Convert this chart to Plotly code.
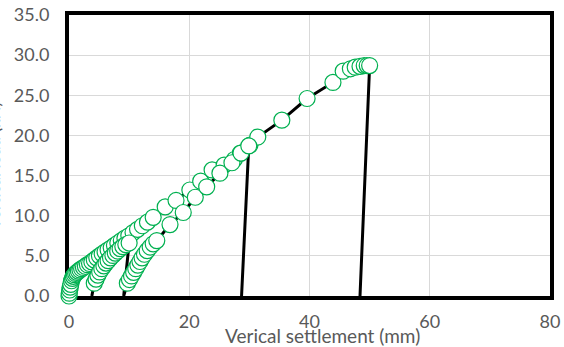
import plotly.graph_objects as go

# Continuous loading curve (loading points), ending with the final unloading
load_a_x = [0.0, 0.05, 0.12, 0.2, 0.3, 0.42, 0.56, 0.72, 0.9, 1.1, 1.32, 1.56, 1.82,
            2.1, 2.4, 2.72, 3.06, 3.42, 3.8, 4.2, 4.62, 5.06, 5.52, 6.0, 6.5, 7.02,
            7.56, 8.12, 8.7, 9.3, 9.95, 10.65, 11.4, 12.2, 13.05, 14.0, 16.0, 17.8,
            20.1, 21.9, 23.8, 25.8, 27.5, 28.5, 30.1, 31.4, 35.4, 39.6, 43.9, 45.6,
            46.8, 47.6, 48.4, 49.1, 49.6, 50.0]
load_a_y = [0.0, 0.35, 0.75, 1.1, 1.45, 1.9, 2.2, 2.45, 2.65, 2.8, 2.95, 3.1, 3.25,
            3.4, 3.55, 3.7, 3.9, 4.05, 4.25, 4.5, 4.75, 5.0, 5.25, 5.5, 5.75, 6.0,
            6.3, 6.6, 6.9, 7.2, 7.5, 7.9, 8.3, 8.75, 9.2, 9.8, 11.1, 11.9, 13.2,
            14.3, 15.7, 16.3, 17.0, 17.8, 18.8, 19.8, 21.9, 24.6, 26.6, 28.0, 28.3,
            28.5, 28.6, 28.7, 28.7, 28.7]
unload_a_x = [50.0, 48.4]
unload_a_y = [28.7, 0.0]

# Reload / unload cycles
start_b_x = [3.8]
start_b_y = [0.0]
load_b_x = [4.2, 4.5, 4.8, 5.1, 5.45, 5.8, 6.15, 6.5, 6.9, 7.3, 7.7, 8.1, 8.5, 8.95,
            9.45, 10.0]
load_b_y = [1.6, 2.1, 2.6, 3.0, 3.4, 3.75, 4.1, 4.4, 4.75, 5.05, 5.35, 5.6, 5.9, 6.15,
            6.4, 6.6]
unload_b_x = [9.1]
unload_b_y = [0.0]
load_c_x = [9.7, 10.05, 10.4, 10.75, 11.1, 11.45, 11.8, 12.15, 12.55, 13.0, 13.5, 14.0,
            14.6, 16.8, 19.0, 21.0, 22.9, 25.1, 27.1, 28.6, 29.9]
load_c_y = [1.6, 2.05, 2.5, 2.95, 3.4, 3.85, 4.3, 4.75, 5.2, 5.65, 6.1, 6.5, 6.9, 8.9,
            10.4, 12.3, 13.6, 15.3, 16.6, 17.8, 18.7]
unload_c_x = [28.7]
unload_c_y = [0.0]

x_ticks = [0, 20, 40, 60, 80]
y_ticks = [0, 5, 10, 15, 20, 25, 30, 35]

GREEN = "#00B050"
FONT = "Lato"
TEXT_GREY = "#595959"

fig = go.Figure()

line_style = dict(color="black", width=3)
fig.add_trace(go.Scatter(x=load_a_x + unload_a_x[1:], y=load_a_y + unload_a_y[1:],
                         mode="lines", line=line_style, hoverinfo="skip"))
fig.add_trace(go.Scatter(
    x=start_b_x + load_b_x + unload_b_x + load_c_x + unload_c_x,
    y=start_b_y + load_b_y + unload_b_y + load_c_y + unload_c_y,
    mode="lines", line=line_style, hoverinfo="skip"))

marker_style = dict(size=16, color="white", line=dict(color=GREEN, width=1.2))
for mx, my in [(load_a_x, load_a_y), (load_b_x, load_b_y), (load_c_x, load_c_y)]:
    fig.add_trace(go.Scatter(x=mx, y=my, mode="markers", marker=marker_style,
                             cliponaxis=False))

axis_common = dict(showline=True, linecolor="black", linewidth=4, mirror=True,
                   showgrid=True, gridcolor="#D9D9D9", gridwidth=1.2, zeroline=False,
                   ticks="", layer="below traces", automargin=False,
                   tickfont=dict(family=FONT, size=18, color=TEXT_GREY))

fig.update_layout(
    width=564, height=347,
    margin=dict(l=69, r=14, t=15, b=51),
    paper_bgcolor="white", plot_bgcolor="white",
    showlegend=False,
    xaxis=dict(range=[0, 80], tickvals=x_ticks, ticklabelstandoff=6, **axis_common),
    yaxis=dict(range=[0, 35], tickvals=y_ticks, tickformat=".1f",
               ticklabelstandoff=12, **axis_common),
    annotations=[
        dict(text="Verical settlement (mm)", xref="paper", yref="paper",
             x=0.528, y=-0.142, xanchor="center", yanchor="middle", showarrow=False,
             font=dict(family=FONT, size=19, color=TEXT_GREY)),
        dict(text="Vertical load (kN)", xref="paper", yref="paper",
             x=-0.131, y=0.463, xanchor="right", yanchor="middle", textangle=-90,
             showarrow=False, font=dict(family=FONT, size=17, color=TEXT_GREY)),
    ],
)

fig.write_html("out.html")
